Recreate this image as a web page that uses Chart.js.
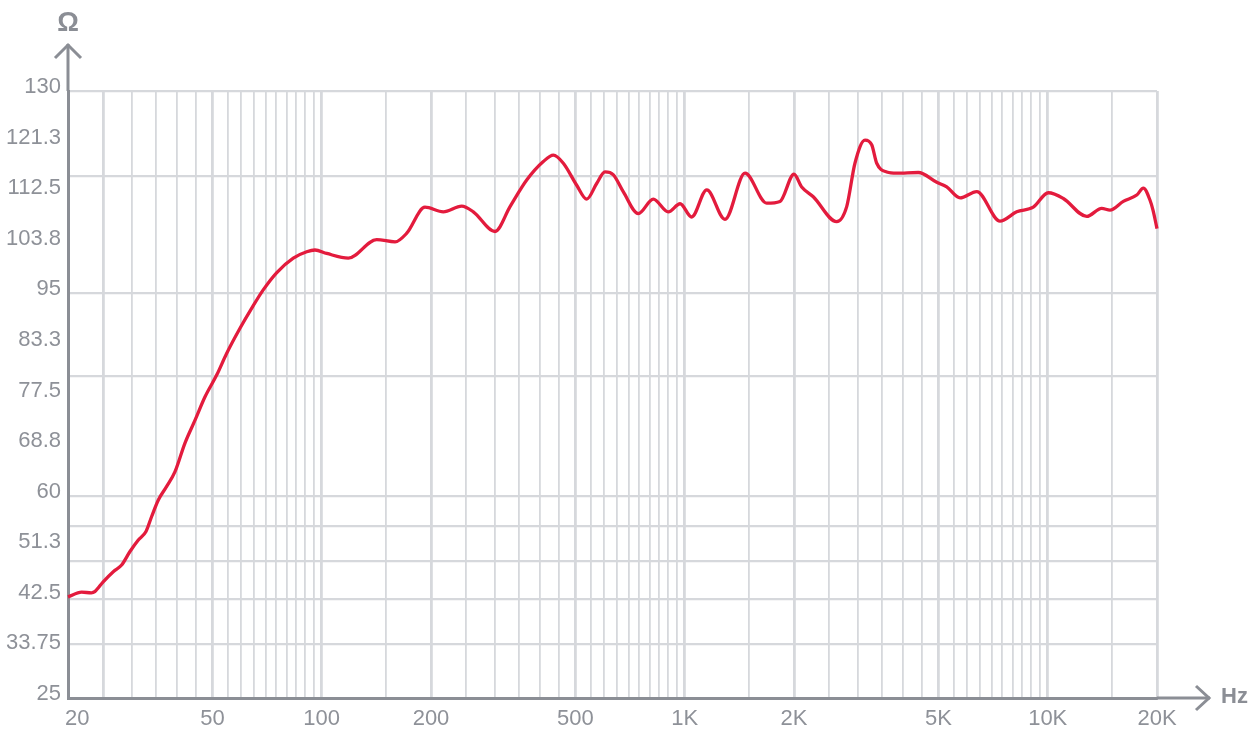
<!DOCTYPE html>
<html>
<head>
<meta charset="utf-8">
<script src="https://cdn.jsdelivr.net/npm/chart.js@4.4.1/dist/chart.umd.min.js"></script>
<style>
  html, body { margin: 0; padding: 0; background: #ffffff; }
  #wrap { position: relative; width: 1258px; height: 744px; }
</style>
</head>
<body>
<div id="wrap"><canvas id="c"></canvas></div>
<script>
// ---- data ----
const freqHz = [20, 21.8, 23.2, 23.7, 25.0, 26.7, 28.1, 29.6, 31.2, 32.8, 34.0, 35.5, 37.4, 39.4, 42.0, 44.8, 47.7, 51.4, 54.7, 59.6, 64.1, 69.0, 75.2, 83.5, 90.9, 95.8, 103.2, 118.4, 141.7, 159.2, 171.5, 192.5, 216.2, 243, 261.6, 300.2, 330.2, 367, 407.8, 434.6, 463, 504, 537, 572, 603, 636, 677, 745, 819, 901, 971, 1045, 1150, 1291, 1466, 1682, 1830, 2000, 2100, 2260, 2622, 2794, 2944, 3138, 3274, 3380, 3602, 3837, 4400, 4946, 5270, 5734, 6375, 7388, 8214, 9125, 10038, 11040, 12808, 14084, 14844, 16152, 17588, 18340, 19134, 19498, 20000];
const impedance = [42.5, 43.3, 43.2, 43.4, 45.1, 46.9, 48.0, 50.3, 52.3, 53.8, 56.4, 59.3, 61.6, 64.1, 69.1, 73.1, 77.1, 80.9, 84.6, 89.0, 92.4, 95.6, 98.6, 101.1, 102.2, 102.5, 101.9, 101.1, 104.3, 103.9, 105.4, 109.9, 109.1, 110.1, 109.1, 105.7, 110.0, 114.6, 117.8, 118.9, 117.5, 113.7, 111.3, 114.0, 116.0, 115.5, 112.6, 108.8, 111.3, 109.1, 110.5, 108.2, 112.9, 107.8, 115.8, 110.6, 110.9, 115.6, 113.4, 111.7, 107.4, 110.0, 117.5, 121.5, 120.7, 117.5, 116.0, 115.8, 115.9, 114.2, 113.4, 111.5, 112.6, 107.5, 109.1, 109.9, 112.4, 111.4, 108.3, 109.7, 109.4, 110.9, 112.0, 113.2, 111.1, 109.4, 106.2];

// x axis ticks
const xGridFreqs = [20, 25, 30, 35, 40, 45, 50, 55, 60, 65, 70, 75, 80, 85, 90, 95, 100, 150, 200, 250, 300, 350, 400, 450, 500, 550, 600, 650, 700, 750, 800, 850, 900, 950, 1000, 1500, 2000, 2500, 3000, 3500, 4000, 4500, 5000, 5500, 6000, 6500, 7000, 7500, 8000, 8500, 9000, 9500, 10000, 15000, 20000];
const xMajorFreqs = [25, 50, 100, 200, 500, 1000, 2000, 5000, 10000, 20000];
const xLabelFreqs = [20, 50, 100, 200, 500, 1000, 2000, 5000, 10000, 20000];
const xLabelTexts = ["   20", "50", "100", "200", "500", "1K", "2K", "5K", "10K", "20K"];

// y axis ticks
const yLabelValues = [25, 33.75, 42.5, 51.25, 60, 68.75, 77.5, 86.25, 95, 103.75, 112.5, 121.25, 130];
const yLabelTexts = ["25", "33.75", "42.5", "51.3", "60", "68.8", "77.5", "83.3", "95", "103.8", "112.5", "121.3", "130"];
const yGridValues = [25, 34.3, 42.1, 48.7, 54.8, 60, 80.6, 95.1, 115.35, 130];

// ---- styling ----
const AXIS = '#8b8e95';
const TEXT = '#8e9198';
const GRID = '#d6d8dc';
const RED = '#e31b3d';
const FONT = '"Liberation Sans", "Helvetica Neue", Arial, sans-serif';

const near = (a, b) => Math.abs(a - b) < 1e-6;
const yTickValues = Array.from(new Set([...yLabelValues, ...yGridValues])).sort((a, b) => a - b);

const arrowPlugin = {
  id: 'arrows',
  afterDraw(chart) {
    const { ctx, chartArea } = chart;
    const L = chartArea.left, B = chartArea.bottom, T = chartArea.top, R = chartArea.right;
    ctx.save();
    ctx.strokeStyle = AXIS;
    ctx.lineWidth = 3;
    ctx.lineCap = 'butt';
    ctx.lineJoin = 'miter';
    // y axis extension
    const yTip = 44;
    ctx.beginPath();
    ctx.moveTo(L, T);
    ctx.lineTo(L, yTip);
    ctx.stroke();
    ctx.beginPath();
    ctx.moveTo(L - 13, yTip + 14);
    ctx.lineTo(L, yTip + 1);
    ctx.lineTo(L + 13, yTip + 14);
    ctx.stroke();
    // x axis extension
    const xTip = 1210;
    ctx.beginPath();
    ctx.moveTo(R, B);
    ctx.lineTo(xTip, B);
    ctx.stroke();
    ctx.beginPath();
    ctx.moveTo(xTip - 14, B - 12);
    ctx.lineTo(xTip - 1, B);
    ctx.lineTo(xTip - 14, B + 12);
    ctx.stroke();
    // unit labels
    ctx.fillStyle = AXIS;
    ctx.font = 'bold 27px ' + FONT;
    ctx.textAlign = 'center';
    ctx.textBaseline = 'middle';
    ctx.fillText('Ω', L, 24);
    ctx.font = 'bold 22px ' + FONT;
    ctx.textAlign = 'left';
    ctx.fillText('Hz', 1221, B - 1);
    ctx.restore();
  }
};

new Chart(document.getElementById('c'), {
  type: 'line',
  data: {
    datasets: [{
      data: freqHz.map((f, i) => ({ x: f, y: impedance[i] })),
      borderColor: RED,
      borderWidth: 3.3,
      pointRadius: 0,
      fill: false,
      cubicInterpolationMode: 'monotone',
      clip: 4
    }]
  },
  options: {
    responsive: true,
    maintainAspectRatio: false,
    animation: false,
    events: [],
    layout: { padding: { top: 91, right: 101, left: 0, bottom: 0 } },
    plugins: { legend: { display: false }, tooltip: { enabled: false } },
    scales: {
      x: {
        type: 'logarithmic',
        min: 20,
        max: 20000,
        afterBuildTicks(scale) { scale.ticks = xGridFreqs.map(v => ({ value: v })); },
        afterFit(scale) { scale.height = 46; },
        grid: {
          color: GRID,
          lineWidth: (c) => (c.tick && xMajorFreqs.some(v => near(v, c.tick.value))) ? 2.8 : 1.8,
          drawTicks: false
        },
        border: { display: true, color: AXIS, width: 3 },
        ticks: {
          autoSkip: false,
          maxRotation: 0,
          minRotation: 0,
          padding: 8,
          color: TEXT,
          font: { family: FONT, size: 22 },
          callback(value) {
            const i = xLabelFreqs.findIndex(v => near(v, value));
            return i >= 0 ? xLabelTexts[i] : '';
          }
        }
      },
      y: {
        type: 'linear',
        min: 25,
        max: 130,
        afterBuildTicks(scale) { scale.ticks = yTickValues.map(v => ({ value: v })); },
        afterFit(scale) { scale.width = 68; },
        grid: {
          color: (c) => (c.tick && yGridValues.some(v => near(v, c.tick.value))) ? GRID : 'rgba(0,0,0,0)',
          lineWidth: 2.3,
          drawTicks: false
        },
        border: { display: true, color: AXIS, width: 3 },
        ticks: {
          autoSkip: false,
          padding: 7,
          labelOffset: -4,
          color: TEXT,
          font: { family: FONT, size: 22 },
          callback(value) {
            const i = yLabelValues.findIndex(v => near(v, value));
            return i >= 0 ? yLabelTexts[i] : '';
          }
        }
      }
    }
  },
  plugins: [arrowPlugin]
});
</script>
</body>
</html>
